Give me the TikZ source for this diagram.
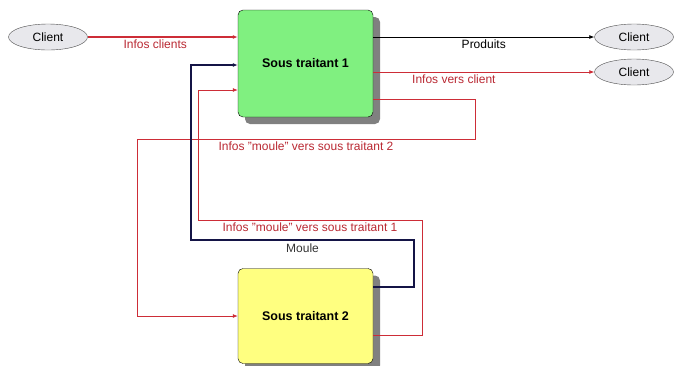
\documentclass[tikz,border=0pt]{standalone}
\usepackage{fontspec}
\setmainfont{Liberation Sans}
\usepackage{xcolor}
\usetikzlibrary{shapes.geometric,shadows,arrows.meta}

\definecolor{boxgreen}{RGB}{128,240,128}
\definecolor{boxyellow}{RGB}{255,255,128}
\definecolor{clientgray}{RGB}{232,232,236}
\definecolor{infored}{RGB}{205,45,55}
\definecolor{labelred}{RGB}{185,40,50}
\definecolor{navy}{RGB}{20,20,70}

\tikzset{
	box/.style = {draw = black, rounded corners = 5pt, minimum width = 135pt, minimum height = 107pt,
		font = \fontsize{12.5}{15}\selectfont\bfseries,
		drop shadow = {shadow xshift = 7pt, shadow yshift = -7pt, fill = black!50, opacity = 1}},
	client/.style = {ellipse, draw = black!70, fill = clientgray, minimum width = 79pt, minimum height = 26pt,
		inner sep = 0pt, font = \fontsize{12}{14}\selectfont},
	tip/.style = {-{Latex[length = 5pt, width = 4pt]}},
	infoline/.style = {tip, draw = infored, line width = 0.8pt},
	infolabel/.style = {text = labelred, font = \fontsize{12}{14}\selectfont, inner sep = 2pt}
}

\begin{document}
\begin{tikzpicture}[x = 1pt, y = -1pt]
		
		\useasboundingbox (0,0) rectangle (674,365);
		
		\node[box, fill = boxgreen] (b1) at (305.5,63.5) {Sous traitant 1}; 
		
		\node[box, fill = boxyellow, minimum height = 95pt] (b2) at (305.5,316) {Sous traitant 2}; 
		
		\node[client] (c1) at (48,37) {Client}; 
		
		\node[client] (c2) at (634,37) {Client}; 
		
		\node[client] (c3) at (634,72) {Client}; 
		
		\draw[infoline, line width = 1.6pt] (c1) -- node[infolabel, below, pos = 0.45] {Infos clients} (b1.west |- c1);
		
		\draw[tip, draw = black, line width = 0.8pt] (b1.east |- c2) -- node[below, font = \fontsize{12}{14}\selectfont, inner sep = 2pt] {Produits} (c2);
		
		\draw[infoline] (b1.east |- c3) -- node[infolabel, below, pos = 0.365] {Infos vers client} (c3);
		
		\draw[infoline] (b1.east |- 0,99) -| (475,139) -- node[infolabel, below] {Infos "moule" vers sous traitant 2} (137,139) |- (b2.west);
		
		\draw[infoline] (b2.east |- 0,335) -| (422,220) -- node[infolabel, below] {Infos "moule" vers sous traitant 1} (198,220) |- (b1.west |- 0,90);
		
		\draw[tip, draw = navy, line width = 1.6pt] (b2.east |- 0,287) -| (414,240) -- node[below, font = \fontsize{12}{14}\selectfont, text = black!80, inner sep = 3pt] {Moule} (191,240) |- (b1.west |- 0,65);
		
	\end{tikzpicture}
\end{document}
